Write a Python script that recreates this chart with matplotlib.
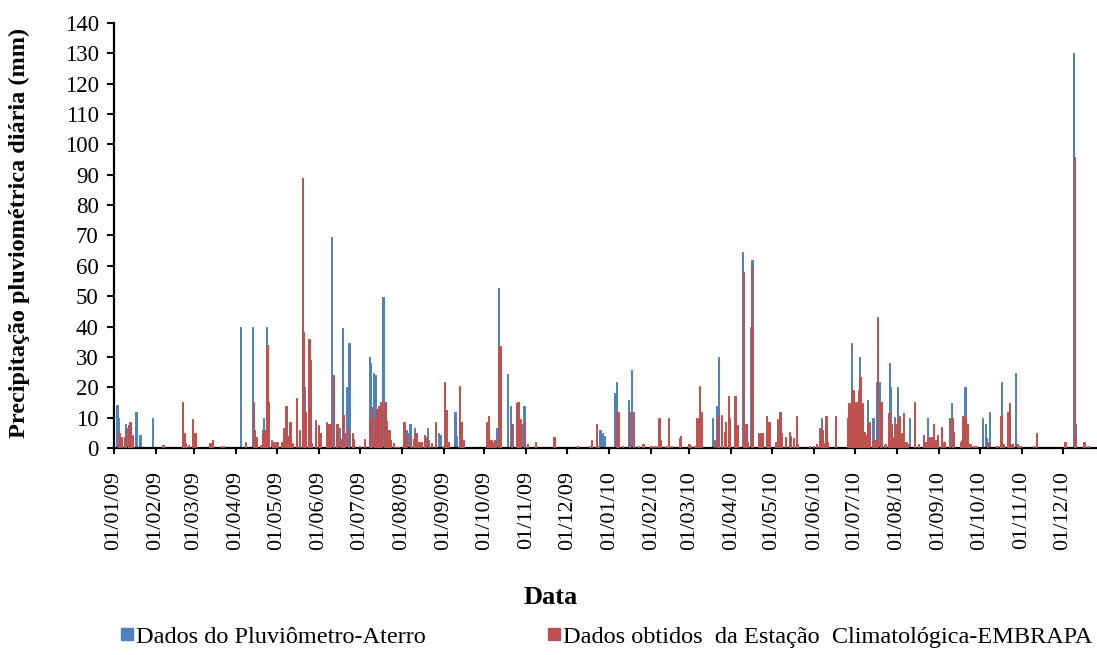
import numpy as np
import pandas as pd
import matplotlib
matplotlib.use("Agg")
import matplotlib.pyplot as plt
import matplotlib.dates as mdates
from matplotlib.patches import Patch

plt.rcParams["font.family"] = ["Liberation Serif", "DejaVu Serif"]

# Pluviômetro instalado no aterro (mm/dia, apenas dias com chuva)
datas_pluv = [
    "03/01/09", "04/01/09", "09/01/09", "11/01/09", "17/01/09", "20/01/09", "29/01/09",
    "04/04/09", "13/04/09", "20/04/09", "21/04/09", "23/04/09", "27/04/09", "29/04/09",
    "01/05/09", "21/05/09",
    "09/06/09", "10/06/09", "16/06/09", "18/06/09", "21/06/09", "23/06/09",
    "08/07/09", "09/07/09", "11/07/09", "12/07/09", "18/07/09",
    "04/08/09", "05/08/09", "07/08/09", "10/08/09", "20/08/09", "28/08/09", "29/08/09",
    "09/09/09", "10/09/09",
    "10/10/09", "11/10/09", "18/10/09", "20/10/09", "21/10/09", "29/10/09", "30/10/09",
    "25/12/09", "27/12/09", "28/12/09",
    "05/01/10", "06/01/10", "15/01/10", "17/01/10",
    "18/03/10", "21/03/10", "22/03/10",
    "09/04/10", "15/04/10", "16/04/10",
    "06/06/10", "28/06/10", "29/06/10",
    "04/07/10", "10/07/10", "14/07/10", "17/07/10", "19/07/10", "26/07/10", "27/07/10",
    "30/07/10",
    "01/08/10", "10/08/10", "23/08/10",
    "10/09/10", "20/09/10",
    "03/10/10", "05/10/10", "06/10/10", "08/10/10", "17/10/10", "27/10/10",
    "09/12/10", "10/12/10",
]
valores_pluv = [
    14.2, 10, 8, 6.5, 12, 4.3, 10,
    40, 40, 6, 10, 40, 2.6, 2,
    2, 20,
    8, 69.4, 6.5, 39.6, 20, 34.5,
    30, 28, 24.6, 24, 49.6,
    6, 4.8, 8, 6.7, 6.7, 4.8, 4.3,
    12, 4,
    6.5, 52.8, 24.4, 14, 8, 8, 14,
    6, 4.8, 4,
    18, 21.8, 15.8, 25.7,
    10, 14, 30,
    64.7, 40, 62,
    10, 34.5, 19,
    30, 15.8, 10, 21.8, 21.8, 28, 20,
    10.3,
    20, 10, 10,
    14.7, 20,
    10, 8, 3.2, 12, 21.8, 24.6,
    130, 8,
]

# Estação Climatológica da EMBRAPA (mm/dia, apenas dias com chuva)
datas_embrapa = [
    "04/01/09", "06/01/09", "08/01/09", "09/01/09", "11/01/09", "12/01/09", "14/01/09",
    "05/02/09", "06/02/09", "20/02/09", "21/02/09", "22/02/09", "24/02/09", "27/02/09",
    "01/03/09", "12/03/09", "14/03/09", "20/03/09", "22/03/09",
    "07/04/09", "13/04/09", "14/04/09", "15/04/09", "18/04/09", "20/04/09", "21/04/09",
    "23/04/09", "24/04/09", "27/04/09", "29/04/09",
    "01/05/09", "04/05/09", "05/05/09", "07/05/09", "09/05/09", "10/05/09", "12/05/09",
    "15/05/09", "17/05/09", "19/05/09", "20/05/09", "21/05/09", "24/05/09", "25/05/09",
    "26/05/09", "29/05/09", "31/05/09",
    "01/06/09", "06/06/09", "07/06/09", "09/06/09", "11/06/09", "13/06/09", "14/06/09",
    "16/06/09", "18/06/09", "19/06/09", "22/06/09", "25/06/09", "26/06/09", "30/06/09",
    "04/07/09", "08/07/09", "09/07/09", "11/07/09", "12/07/09", "13/07/09", "14/07/09",
    "16/07/09", "19/07/09", "20/07/09", "22/07/09", "23/07/09", "25/07/09", "27/07/09",
    "29/07/09",
    "02/08/09", "04/08/09", "07/08/09", "09/08/09", "10/08/09", "11/08/09", "13/08/09",
    "15/08/09", "17/08/09", "18/08/09", "20/08/09", "22/08/09", "25/08/09", "31/08/09",
    "01/09/09", "02/09/09", "04/09/09", "12/09/09", "13/09/09", "15/09/09",
    "02/10/09", "03/10/09", "05/10/09", "06/10/09", "08/10/09", "11/10/09", "12/10/09",
    "20/10/09", "24/10/09", "25/10/09", "27/10/09", "30/10/09",
    "01/11/09", "07/11/09", "20/11/09", "21/11/09",
    "08/12/09", "17/12/09", "18/12/09", "22/12/09", "23/12/09",
    "06/01/10", "07/01/10", "10/01/10", "15/01/10", "18/01/10", "22/01/10", "25/01/10",
    "31/01/10",
    "03/02/10", "06/02/10", "07/02/10", "11/02/10", "13/02/10", "15/02/10", "21/02/10",
    "22/02/10", "28/02/10",
    "01/03/10", "04/03/10", "06/03/10", "08/03/10", "09/03/10", "19/03/10", "21/03/10",
    "22/03/10", "24/03/10", "26/03/10", "27/03/10", "29/03/10", "30/03/10",
    "03/04/10", "05/04/10", "09/04/10", "11/04/10", "12/04/10", "15/04/10", "16/04/10",
    "20/04/10", "22/04/10", "23/04/10", "26/04/10", "27/04/10", "28/04/10",
    "03/05/10", "04/05/10", "06/05/10", "07/05/10", "10/05/10", "13/05/10", "14/05/10",
    "16/05/10", "18/05/10", "19/05/10", "28/05/10", "31/05/10",
    "02/06/10", "04/06/10", "06/06/10", "07/06/10", "09/06/10", "10/06/10", "16/06/10",
    "25/06/10", "26/06/10", "28/06/10", "29/06/10",
    "01/07/10", "03/07/10", "04/07/10", "06/07/10", "07/07/10", "08/07/10", "10/07/10",
    "11/07/10", "13/07/10", "14/07/10", "15/07/10", "17/07/10", "19/07/10", "20/07/10",
    "22/07/10", "23/07/10", "25/07/10", "26/07/10", "27/07/10", "29/07/10", "30/07/10",
    "01/08/10", "02/08/10", "04/08/10", "05/08/10", "07/08/10", "08/08/10", "13/08/10",
    "16/08/10", "20/08/10", "21/08/10", "23/08/10", "24/08/10", "26/08/10", "27/08/10",
    "29/08/10", "30/08/10",
    "02/09/10", "04/09/10", "08/09/10", "10/09/10", "11/09/10", "16/09/10", "17/09/10",
    "18/09/10", "20/09/10", "21/09/10", "23/09/10", "26/09/10", "28/09/10",
    "06/10/10", "13/10/10", "16/10/10", "18/10/10", "21/10/10", "22/10/10", "24/10/10",
    "28/10/10", "30/10/10",
    "09/11/10", "11/11/10",
    "02/12/10", "09/12/10", "10/12/10", "16/12/10", "19/12/10",
]
valores_embrapa = [
    4.8, 3.7, 3.7, 6, 7.6, 8.7, 4.3,
    1, 1, 15.3, 4.8, 1.5, 1, 9.4,
    4.8, 1.5, 2.8, 0.7, 0.7,
    2, 15, 6, 3.7, 1, 4.8, 6,
    34, 15.3, 2, 2,
    2, 2, 6.5, 14, 4, 8.7, 1.5,
    16.6, 6, 89, 38.3, 12, 35.8, 29,
    1.5, 9.2, 7.6,
    4.8, 8.7, 8, 8, 24, 8, 8,
    3, 11, 5, 6.5, 5, 3, 0.7,
    3, 10, 13.6, 10, 10, 13, 14,
    15.3, 15, 9, 6, 2.6, 1.5, 0.5,
    0.5,
    8.7, 4, 4, 3, 4.8, 4.8, 2,
    2, 4.3, 3.7, 2.6, 1.5, 8.7, 0.7,
    21.8, 12.5, 2, 20.5, 8.7, 2.6,
    8.7, 10.5, 2.6, 2, 2.6, 33.7, 33.7,
    8, 14.7, 15.3, 9.5, 9,
    1.3, 2, 3.5, 3.5,
    0.7, 0.7, 2.6, 8, 0.7,
    12, 12, 0.7, 12, 12, 0.7, 1.3,
    0.7,
    0.7, 10, 2.6, 0.7, 10, 0.7, 3.2,
    4, 1.3,
    0.7, 0.7, 10, 20.5, 12, 2.6, 10,
    11, 11, 5.4, 8.7, 17.2, 9.8,
    17.2, 7.6, 58, 8, 2, 60, 40,
    4.8, 4.8, 4.8, 10.5, 8.7, 8.7,
    2, 9.5, 12, 4.8, 3.5, 5.4, 4,
    3.2, 10.5, 1.3, 0.7, 0.7,
    1.3, 6.5, 6, 1.8, 10.5, 2, 10.5,
    10, 14.7, 19, 19,
    15.3, 19, 23.5, 14.7, 5.4, 4.3, 8,
    8.7, 2, 3, 2.6, 43, 15, 15,
    1, 1.3, 11.4, 12, 8, 3.7, 8,
    10, 10.5, 4.8, 11.4, 2, 1.3, 15.3,
    1.3, 4.3, 2, 3, 3.7, 3.7, 8,
    2.6, 4.3,
    6.8, 2, 10, 10, 5.4, 2, 2.6,
    10.5, 10.3, 8, 1.3, 0.7, 0.7,
    2, 0.7, 10.5, 1.3, 12, 14.7, 1.3,
    1.3, 0.7,
    0.7, 4.8,
    2, 96, 3.7, 2, 0.7,
]

meses = pd.date_range("2009-01-01", "2010-12-01", freq="MS")

azul = "#4F81BD"
vermelho = "#C0504D"

fig = plt.figure(figsize=(10.97, 6.55), dpi=100)
ax = fig.add_axes([0.1039, 0.316, 0.903, 0.649])

x_pluv = mdates.date2num(pd.to_datetime(datas_pluv, format="%d/%m/%y")) + 0.5
x_emb = mdates.date2num(pd.to_datetime(datas_embrapa, format="%d/%m/%y")) + 0.5

ax.bar(x_pluv - 0.25, valores_pluv, width=0.95, color=azul,
       edgecolor=azul, linewidth=0.7, zorder=2)
ax.bar(x_emb + 0.25, valores_embrapa, width=0.95, color=vermelho,
       edgecolor=vermelho, linewidth=0.7, zorder=3)

ax.set_xlim(mdates.date2num(pd.Timestamp("2009-01-01")),
            mdates.date2num(pd.Timestamp("2011-01-01")))
ax.set_ylim(0, 140)
ax.set_yticks(np.arange(0, 141, 10))

ax.set_xticks(mdates.date2num(meses))
ax.xaxis.set_major_formatter(mdates.DateFormatter("%d/%m/%y"))
ax.tick_params(axis="x", rotation=90, length=4.5, width=1.5, pad=12,
               labelsize=16, direction="out")
ax.tick_params(axis="y", length=5, width=1.5, pad=6, labelsize=16.5,
               direction="out")

for lado in ["top", "right"]:
    ax.spines[lado].set_visible(False)
for lado in ["left", "bottom"]:
    ax.spines[lado].set_linewidth(1.6)

ax.set_ylabel("Precipitação pluviométrica diária (mm)", fontsize=17.5,
              fontweight="bold")
ax.yaxis.set_label_coords(-0.085, 0.505)
fig.text(0.502, 0.088, "Data", ha="center", va="center", fontsize=19,
         fontweight="bold")

handles = [Patch(color=azul), Patch(color=vermelho)]
fig.legend(handles,
           ["Dados do Pluviômetro-Aterro",
            "Dados obtidos  da Estação  Climatológica-EMBRAPA"],
           loc="center", bbox_to_anchor=(0.553, 0.027), ncol=2, frameon=False,
           fontsize=17.5, handlelength=0.5, handleheight=0.42,
           handletextpad=0.12, columnspacing=5.0)

fig.savefig("out.png", dpi=100)
